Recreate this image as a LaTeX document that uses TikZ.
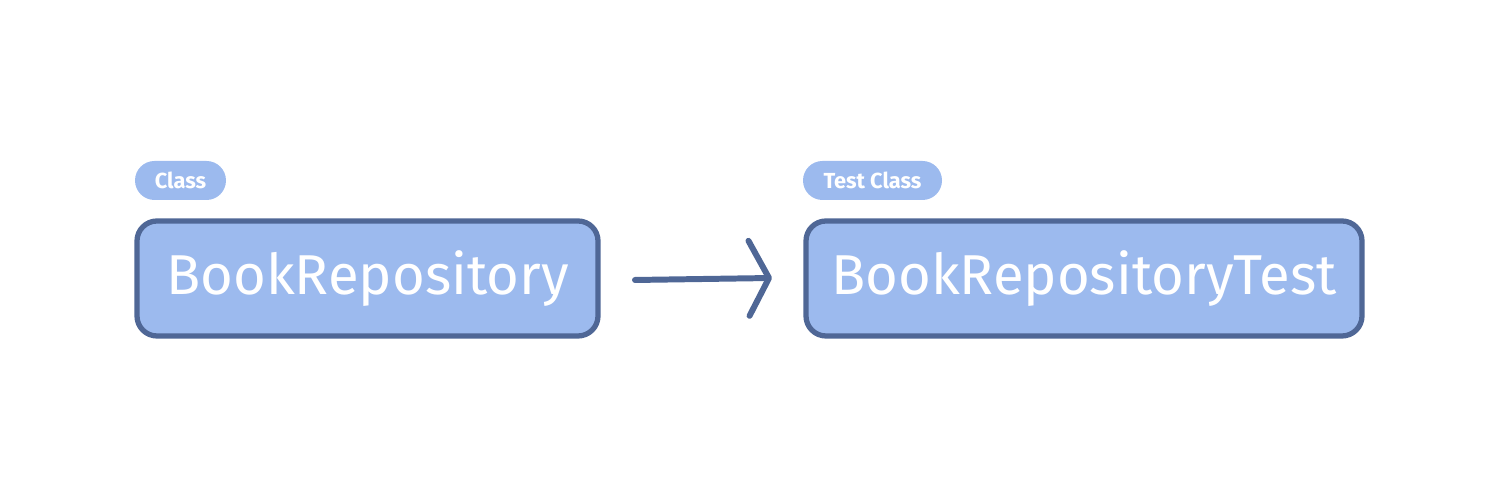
\documentclass[tikz,border=0pt]{standalone}
\usepackage{fontspec}
\setmainfont{Fira Sans}
\usetikzlibrary{positioning,arrows.meta}
\definecolor{boxfill}{HTML}{9CBAEE}
\definecolor{boxline}{HTML}{4F6796}
\begin{document}
\begin{tikzpicture}[
        block/.style = {draw=boxline, fill=boxfill, line width=1.5pt, rounded corners=0.2cm,
            minimum height=1.15cm, inner sep=0pt, text=white, font=\fontsize{16}{18}\selectfont},
        tag/.style = {fill=boxfill, rounded corners=0.195cm, minimum height=0.39cm,
            inner sep=0pt, text=white, font=\fontsize{6.2}{7}\selectfont\bfseries},
        arrow/.style = {line width=1.7pt, boxline, line cap=round,
            -{Straight Barb[length=0.2cm, width=0.75cm, line cap=round, line join=round]}}
        ]
        \useasboundingbox (0,0) rectangle (15,5);
        \node[block, minimum width=4.61cm] (repo) at (3.675,2.215) {BookRepository};
        \node[block, minimum width=5.56cm] (test) at (10.84,2.215) {BookRepositoryTest};
        \node[tag, minimum width=0.91cm] (repotag) at (1.805,3.195) {Class};
        \node[tag, minimum width=1.39cm] (testtag) at (8.725,3.195) {Test Class};

        \coordinate (start) at (6.35,2.2);
        \coordinate (end) at (7.72,2.22);
        \draw[arrow] (start) -- (end);
    \end{tikzpicture}
\end{document}
